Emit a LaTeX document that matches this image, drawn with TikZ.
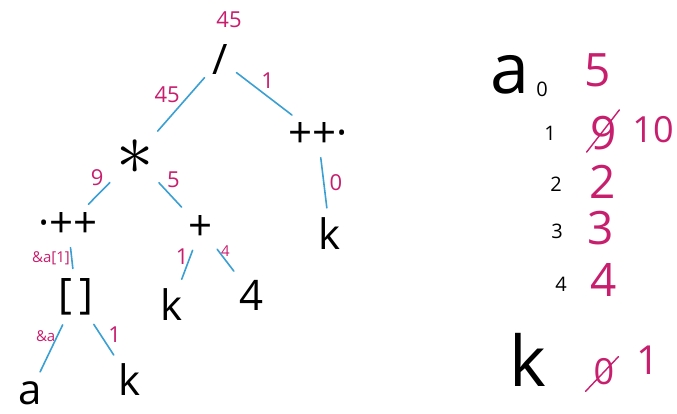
\documentclass[tikz,border=0pt]{standalone}
\usepackage{fontspec}
\setmainfont{Open Sans}
\usepackage{tikz}
\usetikzlibrary{positioning}
\definecolor{edgeblue}{HTML}{3A9FD2}
\definecolor{countpink}{HTML}{C81E6E}

\begin{document}
\begin{tikzpicture}[x=1pt,y=-1pt,
  op/.style={font=\fontsize{42}{42}\selectfont,inner sep=3pt},
  big/.style={font=\fontsize{70}{70}\selectfont,inner sep=0pt},
  idx/.style={font=\fontsize{20}{20}\selectfont,inner sep=0pt},
  cnt/.style={font=\fontsize{22}{22}\selectfont,text=countpink,inner sep=1pt},
  tiny/.style={font=\fontsize{15}{15}\selectfont,text=countpink,inner sep=1pt},
  val/.style={font=\fontsize{46}{46}\selectfont,text=countpink,inner sep=0pt},
  edg/.style={edgeblue,line width=1.6pt,line cap=round,shorten <=7pt,shorten >=7pt},
  strike/.style={countpink,line width=1.4pt,line cap=round}
]
\useasboundingbox (0,0) rectangle (677,414);

% tree
\node[op] (root) at (220,60) {/};
\node[cnt] (rootval) at (229,20) {45};
\node[op] (mul) at (135,157) {\scalebox{3}{$\ast$}};
\node[op] (postinc) at (318,135) {++·};
\node[op] (preinc) at (68,225) {·++};
\node[op] (plus) at (201,228) {+};
\node[op] (k0) at (330,234) {k};
\node[op] (idx) at (76,297) {[\,]};
\node[op] (k1) at (172,305) {k};
\node[op] (four) at (252,295) {4};
\node[op] (a) at (30,393) {a};
\node[op] (k2) at (130,380) {k};

% edges
\draw[edg] (root) -- node[cnt,pos=.35,left=8pt] {45} (mul);
\draw[edg] (root) -- node[cnt,pos=.55,above=6pt] {1} (postinc);
\draw[edg] (mul) -- node[cnt,pos=.3,above left] {9} (preinc);
\draw[edg] (mul) -- node[cnt,pos=.35,above right] {5} (plus);
\draw[edg] (postinc) -- node[cnt,pos=.5,right=4pt] {0} (k0);
\draw[edg] (preinc) -- node[tiny,pos=.5,left] {\&a[1]} (idx);
\draw[edg] (plus) -- node[cnt,pos=.3,left] {1} (k1);
\draw[edg] (plus) -- node[tiny,pos=.5,above=2pt] {4} (four);
\draw[edg] (idx) -- node[tiny,pos=.3,left] {\&a} (a);
\draw[edg] (idx) -- node[cnt,pos=.6,above right] {1} (k2);

% memory
\node[big] (aname) at (510,75) {a};
\node[idx] (a0) at (542,89) {0};
\node[idx] (a1) at (550,133) {1};
\node[idx] (a2) at (556,184) {2};
\node[idx] (a3) at (557,231) {3};
\node[idx] (a4) at (561,284) {4};
\node[val] (v0) at (598,70) {5};
\node[val] (v1) at (604,133) {9};
\draw[strike] ([shift={(-4,2)}]v1.south west) -- ([shift={(2,-6)}]v1.north east);
\node[val,font=\fontsize{36}{36}\selectfont] (v1new) at (653,130) {10};
\node[val] (v2) at (603,182) {2};
\node[val] (v3) at (601,228) {3};
\node[val] (v4) at (604,280) {4};

\node[big] (kname) at (528,360) {k};
\node[val,font=\fontsize{36}{36}\selectfont] (kv0) at (604,372) {0};
\draw[strike] ([shift={(-8,6)}]kv0.south west) -- ([shift={(4,-2)}]kv0.north east);
\node[val,font=\fontsize{40}{40}\selectfont] (kv1) at (648,360) {1};
\end{tikzpicture}
\end{document}
